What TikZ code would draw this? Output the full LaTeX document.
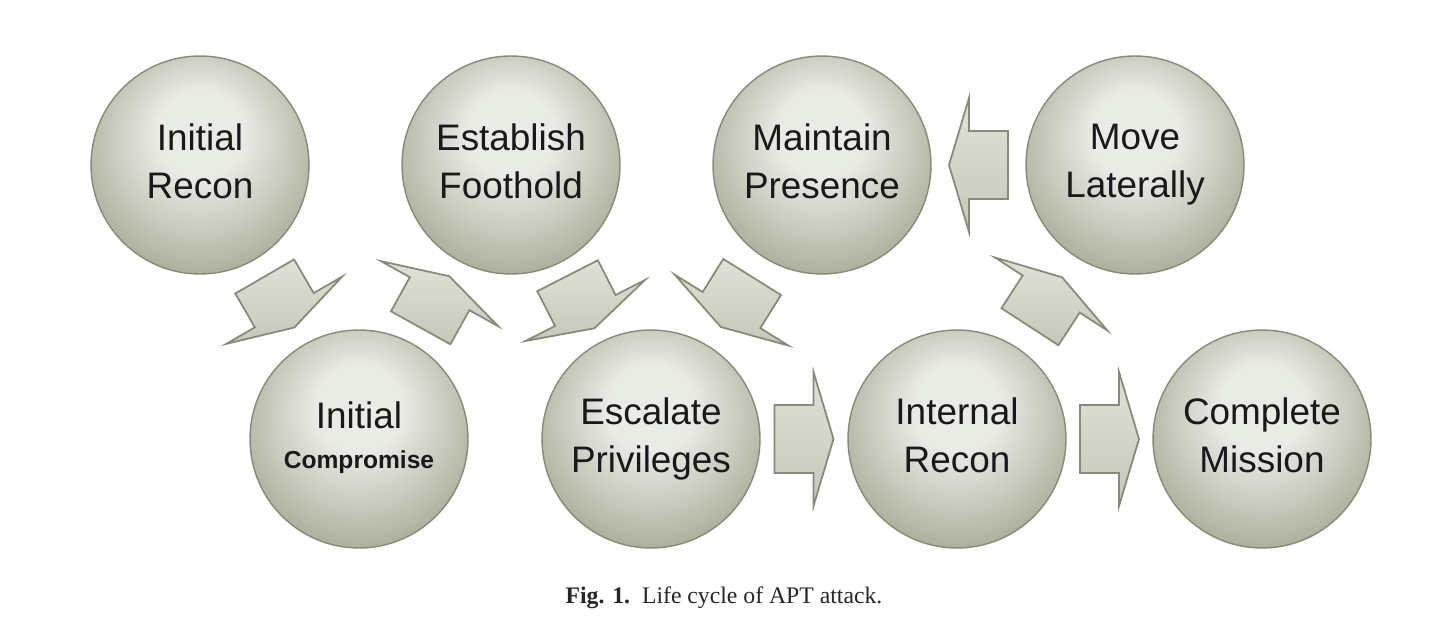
\documentclass[tikz,border=0pt]{standalone}
\usepackage{fontspec}
\setmainfont{Liberation Serif}
\setsansfont{Liberation Sans}
\usetikzlibrary{calc}

\definecolor{ballin}{HTML}{E9EBE5}
\definecolor{ballout}{HTML}{A9AC98}
\definecolor{ballrim}{HTML}{878A77}
\definecolor{arrowlight}{HTML}{E0E2D9}
\definecolor{arrowdark}{HTML}{C5C7BA}

\pgfdeclareradialshading{stageball}{\pgfpoint{0bp}{9bp}}{color(0bp)=(ballin); color(10bp)=(ballin); color(30bp)=(ballout); color(50bp)=(ballout)}

\newcommand{\compfont}{\sffamily\bfseries\fontsize{14}{18}\selectfont}
\newcommand{\stagetop}{\rule{0pt}{19.6pt}}
\newcommand{\stagebottom}{\rule[-4.6pt]{0pt}{4.6pt}}

\tikzset{
  stage/.style={circle, draw=ballrim, line width=0.8pt, shading=stageball,
    minimum size=4.36cm, inner sep=0pt, align=center,
    font=\sffamily\fontsize{21}{27}\selectfont, text=black!90,
    execute at begin node=\stagetop, execute at end node=\stagebottom},
  blockarrow/.pic={
    \draw[draw=ballrim, line width=1pt, line join=miter,
      top color=arrowlight, bottom color=arrowdark]
      (-29.5,-34) -- (9.5,-34) -- (9.5,-67) -- (29.5,0)
      -- (9.5,67) -- (9.5,34) -- (-29.5,34) -- cycle;
  }
}

\begin{document}
\begin{tikzpicture}[x=0.02cm, y=-0.02cm]
    \useasboundingbox[fill=white] (0,0) rectangle (1440,636);

    % top row
    \node[stage] (ir) at (200,165) {Initial\\Recon};
    \node[stage] (ef) at (511,165) {Establish\\Foothold};
    \node[stage] (mp) at (822,165) {Maintain\\Presence};
    \node[stage] (ml) at (1135,165) {Move\\Laterally};

    % bottom row
    \node[stage] (ic) at (359,439) {Initial\\[-4pt]{\compfont Compromise}};
    \node[stage] (ep) at (651,439) {Escalate\\Privileges};
    \node[stage] (inr) at (957,439) {Internal\\Recon};
    \node[stage] (cm) at (1262,439) {Complete\\Mission};

    % block arrows, half way between the two stages
    \foreach \a/\b in {ir/ic, ic/ef, ef/ep, mp/ep, ep/inr, inr/ml, ml/mp, inr/cm}
        \path let \p1 = ($(\b)-(\a)$), \n1 = {atan2(\y1,\x1)} in
            ($(\a)!0.5!(\b)$) pic[rotate=\n1] {blockarrow};

    \node[font=\fontsize{13.5}{16}\selectfont, text=black!85] (cap) at (724,598)
        {\textbf{Fig. 1.}\ \ Life cycle of APT attack.};
\end{tikzpicture}
\end{document}
